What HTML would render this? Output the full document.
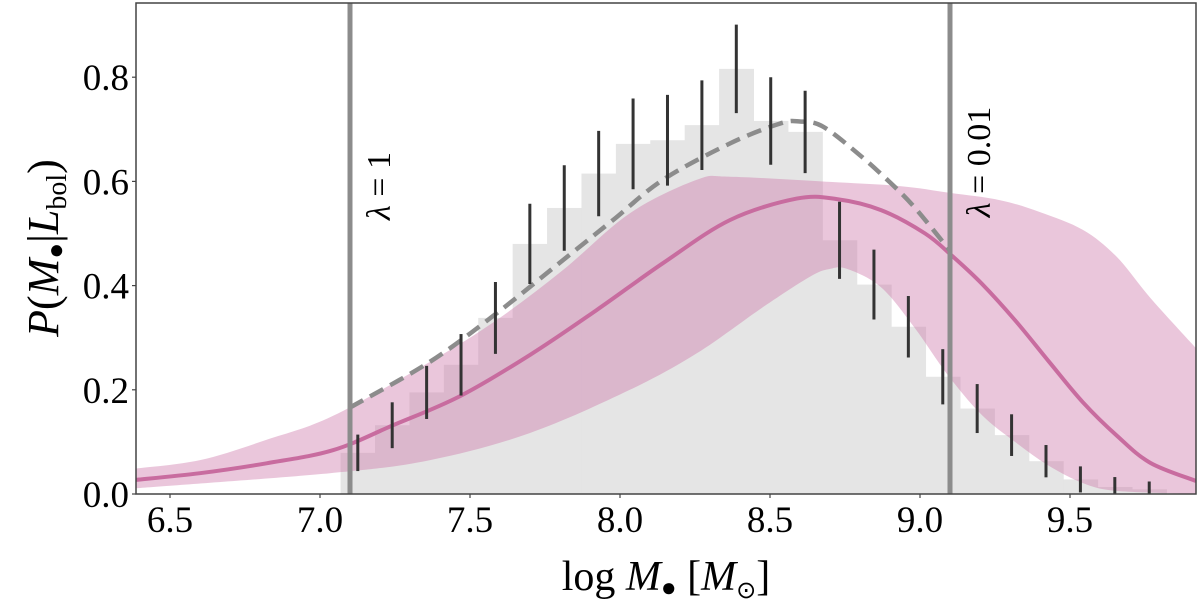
<!DOCTYPE html>
<html><head><meta charset="utf-8"><style>
html,body{margin:0;padding:0;background:#fff;}
svg{display:block;font-family:"Liberation Serif",serif;}
</style></head><body>
<svg id="chart" width="1200" height="604" viewBox="0 0 1200 604">
<defs><clipPath id="clip"><rect x="136" y="3" width="1060" height="491"/></clipPath></defs>
<rect x="0" y="0" width="1200" height="604" fill="#fff"/>
<g id="plot" clip-path="url(#clip)"></g>
<rect x="136" y="3" width="1060" height="491" fill="none" stroke="#444" stroke-width="1.5"/>
<g id="axes"></g>
<text x="0" y="0" transform="translate(390,186) rotate(-90)" text-anchor="middle" font-size="34"><tspan font-style="italic">λ</tspan> = 1</text>
<text x="0" y="0" transform="translate(990,162) rotate(-90)" text-anchor="middle" font-size="34"><tspan font-style="italic">λ</tspan> = 0.01</text>
<text x="666" y="590" text-anchor="middle" font-size="42">log <tspan font-style="italic">M</tspan><tspan font-size="26" dy="6">●</tspan><tspan dy="-6"> [</tspan><tspan font-style="italic">M</tspan><tspan font-size="24" dy="8">⊙</tspan><tspan dy="-8">]</tspan></text>
<text x="0" y="0" transform="translate(58,248) rotate(-90)" text-anchor="middle" font-size="44"><tspan font-style="italic">P</tspan>(<tspan font-style="italic">M</tspan><tspan font-size="26" dy="6">●</tspan><tspan dy="-6">|</tspan><tspan font-style="italic">L</tspan><tspan font-size="28" dy="8">bol</tspan><tspan dy="-8">)</tspan></text>
</svg>
<script>
const histCenters0 = 7.126;
const histStep = 0.1147;
const histValues = [0.079,0.132,0.195,0.248,0.338,0.480,0.549,0.615,0.672,0.679,0.708,0.816,0.716,0.695,0.487,0.402,0.321,0.225,0.164,0.113,0.063,0.028,0.0135,0.009];
const histErrors = [0.035,0.044,0.051,0.059,0.069,0.077,0.082,0.082,0.087,0.087,0.086,0.085,0.084,0.079,0.074,0.067,0.059,0.053,0.047,0.040,0.031,0.025,0.019,0.015];
const medX = [6.387,6.6,6.822,7.043,7.24,7.467,7.7,7.922,8.143,8.367,8.589,8.723,8.87,9.017,9.107,9.207,9.319,9.43,9.543,9.656,9.767,9.92];
const medY = [0.027,0.040,0.059,0.084,0.131,0.188,0.267,0.353,0.443,0.526,0.567,0.566,0.545,0.500,0.457,0.403,0.332,0.254,0.176,0.112,0.060,0.025];
const upX = [6.387,6.6,6.822,7.043,7.367,7.589,7.81,8.033,8.256,8.367,8.7,8.933,9.1,9.267,9.4,9.543,9.656,9.767,9.92];
const upY = [0.049,0.065,0.104,0.150,0.254,0.334,0.430,0.539,0.603,0.609,0.599,0.591,0.578,0.564,0.541,0.507,0.455,0.377,0.280];
const loX = [6.387,7.033,7.367,7.7,8.033,8.256,8.477,8.633,8.7,8.757,8.87,8.982,9.093,9.207,9.319,9.43,9.543,9.656,9.92];
const loY = [0.011,0.040,0.065,0.117,0.200,0.270,0.359,0.417,0.432,0.432,0.397,0.319,0.228,0.151,0.099,0.054,0.021,0.006,0.0];
const dashX = [7.1,7.367,7.589,7.81,7.977,8.143,8.367,8.533,8.6,8.677,8.8,8.9,8.982,9.1];
const dashY = [0.166,0.254,0.347,0.449,0.526,0.603,0.673,0.711,0.715,0.705,0.65,0.598,0.550,0.467];
const vlines = [7.1, 9.1];
const xTicks = [6.5,7.0,7.5,8.0,8.5,9.0,9.5];
const xTickLabels = ["6.5","7.0","7.5","8.0","8.5","9.0","9.5"];
const yTicks = [0.0,0.2,0.4,0.6,0.8];
const yTickLabels = ["0.0","0.2","0.4","0.6","0.8"];

const NS = "http://www.w3.org/2000/svg";
const sx = v => 170 + (v - 6.5) * 300;
const sy = v => 494 - v * 521;
const plot = document.getElementById('plot');
const axes = document.getElementById('axes');
function mk(tag, attrs, parent){const e=document.createElementNS(NS,tag);for(const k in attrs)e.setAttribute(k,attrs[k]);parent.appendChild(e);return e;}
function P(xs, ys){return xs.map((x,i)=>[sx(x),sy(ys[i])]);}
function smooth(p, move){
  let d = (move?'M':'L')+p[0][0].toFixed(1)+','+p[0][1].toFixed(1);
  for(let i=0;i<p.length-1;i++){
    const p0=p[Math.max(i-1,0)],p1=p[i],p2=p[i+1],p3=p[Math.min(i+2,p.length-1)];
    const c1=[p1[0]+(p2[0]-p0[0])/6,p1[1]+(p2[1]-p0[1])/6];
    const c2=[p2[0]-(p3[0]-p1[0])/6,p2[1]-(p3[1]-p1[1])/6];
    d+=' C'+c1.map(v=>v.toFixed(1)).join(',')+' '+c2.map(v=>v.toFixed(1)).join(',')+' '+p2[0].toFixed(1)+','+p2[1].toFixed(1);
  }
  return d;
}

histValues.forEach((v,i)=>{
  const c = histCenters0 + i*histStep;
  const r = mk('rect',{x:sx(c-histStep/2),y:sy(v),width:histStep*300+0.5,height:sy(0)-sy(v),fill:'#e5e5e5'},plot);
  
  
});
const band = mk('path',{d:smooth(P(upX,upY),true)+' '+smooth(P(loX,loY).reverse(),false)+' Z',fill:'rgba(205,120,170,0.42)'},plot);


const med = mk('path',{d:smooth(P(medX,medY),true),fill:'none',stroke:'#c86c9f',"stroke-width":4}, plot);


const dash = mk('path',{d:smooth(P(dashX,dashY),true),fill:'none',stroke:'#8c8c8c',"stroke-width":4.5,"stroke-dasharray":"15 8"},plot);


vlines.forEach(v=>{
  const l = mk('line',{x1:sx(v),x2:sx(v),y1:3,y2:494,stroke:'#8c8c8c',"stroke-width":5},plot);
  
  
});
histValues.forEach((v,i)=>{
  const c = histCenters0 + i*histStep;
  const l = mk('line',{x1:sx(c),x2:sx(c),y1:sy(v+histErrors[i]),y2:sy(v-histErrors[i]),stroke:'#333',"stroke-width":3},plot);
  
  
});
xTicks.forEach((t,i)=>{
  const tk = mk('line',{x1:sx(t),x2:sx(t),y1:494,y2:498,stroke:'#444',"stroke-width":1.2},axes);
  
  
  const tx = mk('text',{x:sx(t),y:532,"text-anchor":"middle","font-size":37},axes);
  tx.textContent = xTickLabels[i];
  
  
});
yTicks.forEach((t,i)=>{
  const tk = mk('line',{x1:132,x2:136,y1:sy(t),y2:sy(t),stroke:'#444',"stroke-width":1.2},axes);
  
  
  const tx = mk('text',{x:129,y:sy(t)+13,"text-anchor":"end","font-size":37},axes);
  tx.textContent = yTickLabels[i];
  
  
});
</script>
</body></html>
